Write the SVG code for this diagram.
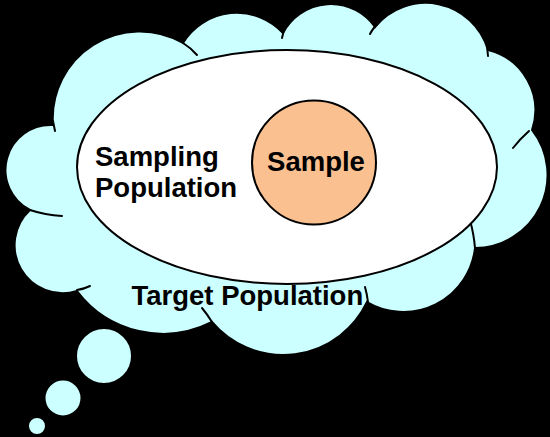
<svg xmlns="http://www.w3.org/2000/svg" width="550" height="437" viewBox="0 0 550 437">
<style>
.cloud{fill:#CCFFFF;stroke:#000;stroke-width:2}
.stub{fill:none;stroke:#000;stroke-width:2;stroke-linecap:round}
.lbl{font-family:"Liberation Sans",Arial,sans-serif;font-weight:bold;font-size:27.5px;fill:#000}
</style>
<rect x="0" y="0" width="550" height="437" fill="#000"/>
<g id="target-population">
<path class="cloud" d="M53 125 A87 87 0 0 1 183 43 A63 63 0 0 1 283 33 A54 54 0 0 1 375 27 A65 65 0 0 1 488 50 A62 62 0 0 1 532 130 A73 73 0 0 1 475 248 A72 72 0 0 1 367 302 A93 93 0 0 1 212 322 A108 108 0 0 1 77 291 A48 48 0 0 1 30 210 A45 45 0 0 1 53 125 Z"/>
<path class="stub" d="M53 121 Q54 126 55 131"/>
<path class="stub" d="M183 43 Q191 48 197 55"/>
<path class="stub" d="M282 38 Q283 33 285 28"/>
<path class="stub" d="M370 34 Q372 30 377 24"/>
<path class="stub" d="M487 46 L488 56"/>
<path class="stub" d="M513 148 Q520 139 529 131"/>
<path class="stub" d="M470 220 Q474 235 475 248"/>
<path class="stub" d="M365 287 Q367 294 368 302"/>
<path class="stub" d="M202 308 Q207 314 212 322"/>
<path class="stub" d="M77 290 Q84 289 90 286"/>
<path class="stub" d="M30 210 Q45 215 62 216"/>
<circle class="cloud" cx="104" cy="356" r="28"/>
<circle class="cloud" cx="63" cy="398" r="18.5"/>
<circle class="cloud" cx="37" cy="426" r="9"/>
<text class="lbl" x="131.5" y="305">Target Population</text>
</g>
<g id="sampling-population">
<ellipse cx="287" cy="167" rx="210" ry="117" fill="#fff" stroke="#000" stroke-width="2"/>
<text class="lbl" x="95" y="166">Sampling</text>
<text class="lbl" x="95" y="197">Population</text>
</g>
<g id="sample">
<circle cx="314" cy="162.5" r="62" fill="#FAC090" stroke="#000" stroke-width="2"/>
<text class="lbl" x="316" y="171" text-anchor="middle">Sample</text>
</g>
</svg>
